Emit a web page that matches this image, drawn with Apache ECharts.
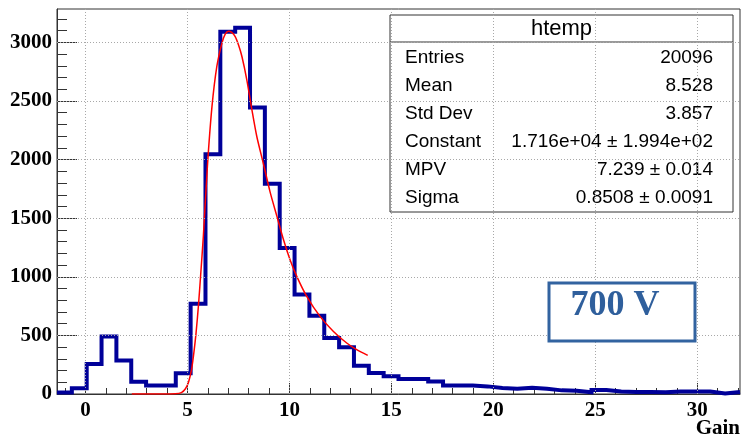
<!DOCTYPE html>
<html><head><meta charset="utf-8">
<script src="https://cdn.jsdelivr.net/npm/echarts@6/dist/echarts.min.js"></script>
<style>html,body{margin:0;padding:0;background:#fff}#c{width:742px;height:440px}</style>
</head><body><div id="c"></div>
<script>
// ---- data ----
const xMin = -1.4, xMax = 32.1, nBins = 46;
const yMin = 0, yMax = 3285;
const binCounts = [12, 50, 255, 490, 285, 105, 72, 72, 176, 770,
  2045, 3090, 3125, 2445, 1795, 1245, 850, 668, 478, 398,
  241, 179, 152, 128, 128, 107, 73, 73, 65, 51,
  45, 54, 45, 31, 28, 14, 34, 22, 17, 17,
  15, 22, 22, 22, 5, 17];
const fitX = [2.27, 3.0, 3.8, 4.4, 4.7, 4.9, 5.05, 5.2, 5.29, 5.42, 5.54, 5.66, 5.78, 5.98, 6.2, 6.44, 6.69, 6.85, 7.01, 7.17, 7.34, 7.5, 7.67, 7.91, 8.16, 8.4, 8.73, 9.05, 9.38, 9.71, 10.03, 10.36, 10.85, 11.5, 12.16, 12.81, 13.3, 13.84];
const fitY = [0, 0, 0, 2, 12, 45, 100, 210, 320, 520, 760, 1050, 1350, 1950, 2450, 2795, 2994, 3070, 3095, 3085, 3050, 2980, 2880, 2681, 2425, 2197, 1960, 1725, 1520, 1316, 1146, 1004, 833, 662, 534, 435, 378, 329];
const xMajorTicks = [0, 5, 10, 15, 20, 25, 30];
const xMinorTicks = [-1, 1, 2, 3, 4, 6, 7, 8, 9, 11, 12, 13, 14, 16, 17, 18, 19, 21, 22, 23, 24, 26, 27, 28, 29, 31, 32];
const yMajorTicks = [0, 500, 1000, 1500, 2000, 2500, 3000];
const yMinorTicks = [100, 200, 300, 400, 600, 700, 800, 900, 1100, 1200, 1300, 1400, 1600, 1700, 1800, 1900, 2100, 2200, 2300, 2400, 2600, 2700, 2800, 2900, 3100, 3200];
const xGridValues = [0, 5, 10, 15, 20, 25, 30];
const yGridValues = [500, 1000, 1500, 2000, 2500, 3000];
const statsTitle = 'htemp';
const statsLabels = ['Entries', 'Mean', 'Std Dev', 'Constant', 'MPV', 'Sigma'];
const statsValues = ['20096', '8.528', '3.857', '1.716e+04 \u00b1 1.994e+02', '7.239 \u00b1 0.014', '0.8508 \u00b1 0.0091'];
const xTitle = 'Gain';
const tagText = '700 V';

// ---- build ----
const binW = (xMax - xMin) / nBins;
const histPts = [];
binCounts.forEach((v, k) => {
  histPts.push([xMin + k * binW, v]);
  histPts.push([xMin + (k + 1) * binW, v]);
});
const fitPts = fitX.map((x, i) => [x, fitY[i]]);

const axisColor = '#333';
const labelFont = { fontFamily: 'Liberation Serif', fontWeight: 'bold', fontSize: 21, color: '#000' };

const chart = echarts.init(document.getElementById('c'), null, { renderer: 'canvas' });
const statsChildren = [
  { type: 'rect', shape: { x: 390, y: 15, width: 343, height: 197 }, style: { fill: '#fff', stroke: '#333', lineWidth: 1 } },
  { type: 'line', shape: { x1: 390, y1: 42, x2: 733, y2: 42 }, style: { stroke: '#333', lineWidth: 1 } },
  { type: 'text', x: 561.5, y: 29, style: { text: statsTitle, font: '22px "Liberation Sans"', fill: '#000', textAlign: 'center', textVerticalAlign: 'middle' } }
];
statsLabels.forEach((lab, i) => {
  const y = 58 + i * 28;
  statsChildren.push({ type: 'text', x: 405, y: y, style: { text: lab, font: '19px "Liberation Sans"', fill: '#000', textAlign: 'left', textVerticalAlign: 'middle' } });
  statsChildren.push({ type: 'text', x: 713, y: y, style: { text: statsValues[i], font: '19px "Liberation Sans"', fill: '#000', textAlign: 'right', textVerticalAlign: 'middle' } });
});

chart.setOption({
  animation: false,
  backgroundColor: '#fff',
  grid: { left: 57, right: 2, top: 9, bottom: 46, show: true, borderColor: axisColor, borderWidth: 1, backgroundColor: 'transparent' },
  xAxis: [
    { type: 'value', min: xMin, max: xMax, position: 'bottom',
      axisLine: { show: true, onZero: false, lineStyle: { color: axisColor, width: 1 } },
      axisTick: { show: true, inside: true, length: 11, customValues: xMajorTicks, lineStyle: { color: axisColor } },
      axisLabel: Object.assign({ customValues: xMajorTicks, margin: 6, formatter: v => String(v) }, labelFont),
      splitLine: { show: false } },
    { type: 'value', min: xMin, max: xMax, position: 'bottom',
      axisLine: { show: false, onZero: false },
      axisTick: { show: true, inside: true, length: 6, customValues: xMinorTicks, lineStyle: { color: axisColor } },
      axisLabel: { show: false }, splitLine: { show: false } }
  ],
  yAxis: [
    { type: 'value', min: yMin, max: yMax, position: 'left',
      axisLine: { show: true, onZero: false, lineStyle: { color: axisColor, width: 1 } },
      axisTick: { show: true, inside: true, length: 20, customValues: yMajorTicks, lineStyle: { color: axisColor } },
      axisLabel: Object.assign({ customValues: yMajorTicks, margin: 5, formatter: v => String(v) }, labelFont),
      splitLine: { show: false } },
    { type: 'value', min: yMin, max: yMax, position: 'left',
      axisLine: { show: false, onZero: false },
      axisTick: { show: true, inside: true, length: 10, customValues: yMinorTicks, lineStyle: { color: axisColor } },
      axisLabel: { show: false }, splitLine: { show: false } }
  ],
  series: [
    { type: 'line', data: [], z: 1, silent: true,
      markLine: { silent: true, symbol: 'none', animation: false, label: { show: false },
        lineStyle: { color: '#a8a8a8', type: [1, 2], width: 1 },
        data: xGridValues.map(v => ({ xAxis: v })).concat(yGridValues.map(v => ({ yAxis: v }))) } },
    { type: 'line', name: 'htemp', data: histPts, showSymbol: false, z: 3, clip: true,
      lineStyle: { color: '#000099', width: 4, join: 'miter' } },
    { type: 'line', name: 'fit', data: fitPts, showSymbol: false, smooth: 0.25, z: 4,
      lineStyle: { color: '#ff0000', width: 1.5 } }
  ],
  graphic: [
    { type: 'group', z: 100, children: statsChildren },
    { type: 'rect', z: 100, shape: { x: 549, y: 283, width: 146, height: 58 }, style: { fill: '#fff', stroke: '#3263a0', lineWidth: 3 } },
    { type: 'text', z: 101, x: 615, y: 306, style: { text: tagText, font: 'bold 36px "Liberation Serif"', fill: '#2f5f9c', textAlign: 'center', textVerticalAlign: 'middle' } },
    { type: 'text', z: 101, x: 740, y: 429, style: { text: xTitle, font: 'bold 21px "Liberation Serif"', fill: '#000', textAlign: 'right', textVerticalAlign: 'middle' } }
  ]
});
</script>
</body></html>
